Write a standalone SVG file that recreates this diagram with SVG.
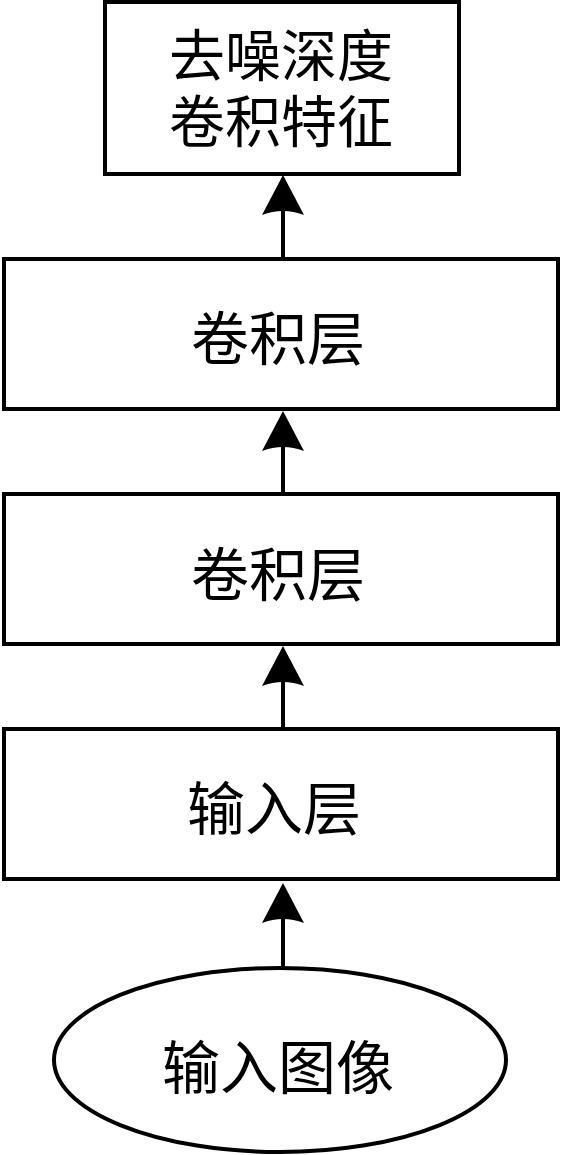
<svg xmlns="http://www.w3.org/2000/svg" width="561" height="1155" viewBox="0 0 561 1155">
<style>
.box{fill:#fff;stroke:#000;stroke-width:4}
.lbl{font-family:"Noto Sans CJK SC","Noto Sans CJK JP",sans-serif;font-size:58px;fill:#000;text-anchor:middle}
.lbl2{font-size:56px}
.conn{stroke:#000;stroke-width:4;fill:none;marker-end:url(#ah)}
</style>
<defs>
<marker id="ah" viewBox="0 0 40 42" refX="15" refY="21" markerWidth="40" markerHeight="42" orient="auto" markerUnits="userSpaceOnUse">
<path d="M40,21 L0,0 Q8,21 0,42 Z" fill="#000"/>
</marker>
</defs>
<rect width="561" height="1155" fill="#fff"/>
<g id="connectors">
<line class="conn" x1="283" y1="258" x2="283" y2="200"/>
<line class="conn" x1="283" y1="494" x2="283" y2="436"/>
<line class="conn" x1="283" y1="729" x2="283" y2="671"/>
<line class="conn" x1="283" y1="968" x2="283" y2="908"/>
</g>
<g id="n_features">
<rect class="box" x="105" y="2" width="354" height="172"/>
<text class="lbl lbl2" x="281" y="76"><tspan x="281" y="76">去噪深度</tspan><tspan x="281" y="142">卷积特征</tspan></text>
</g>
<g id="n_conv2">
<rect class="box" x="4" y="259" width="554" height="150"/>
<text class="lbl" x="278" y="360">卷积层</text>
</g>
<g id="n_conv1">
<rect class="box" x="4" y="494" width="554" height="150"/>
<text class="lbl" x="278" y="596">卷积层</text>
</g>
<g id="n_input">
<rect class="box" x="4" y="729" width="554" height="150"/>
<text class="lbl" x="274" y="830">输入层</text>
</g>
<g id="n_image">
<ellipse class="box" cx="280" cy="1060" rx="226" ry="92"/>
<text class="lbl" x="278" y="1089">输入图像</text>
</g>
</svg>
